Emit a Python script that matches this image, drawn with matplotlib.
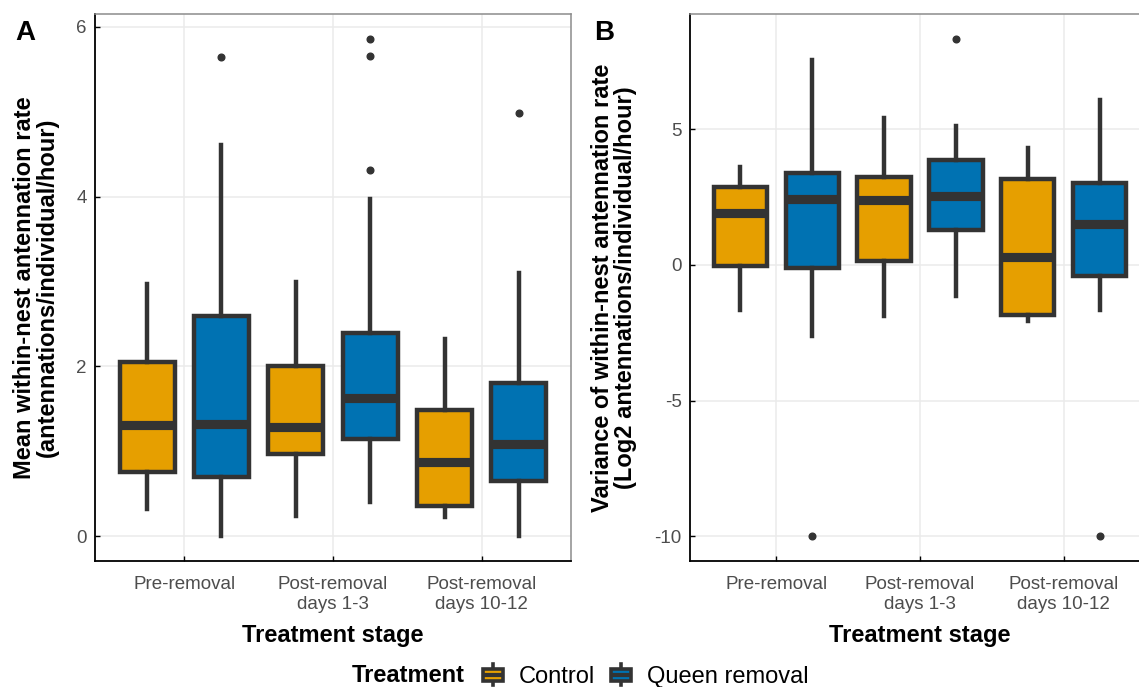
import numpy as np
import matplotlib
matplotlib.use("Agg")
import matplotlib.pyplot as plt
from matplotlib.legend_handler import HandlerBase
from matplotlib.patches import Rectangle, Patch
from matplotlib.lines import Line2D

plt.rcParams["font.family"] = ["Liberation Sans", "DejaVu Sans"]
plt.rcParams["axes.unicode_minus"] = False

stages = ["Pre-removal", "Post-removal\ndays 1-3", "Post-removal\ndays 10-12"]
treatments = ["Control", "Queen removal"]
colours = ["#E69F00", "#0072B2"]
dark = "#333333"

# panel A: mean within-nest antennation rate (box stats per stage)
a_ctrl_low = [0.32, 0.24, 0.23]
a_ctrl_q1 = [0.76, 0.97, 0.35]
a_ctrl_med = [1.31, 1.29, 0.87]
a_ctrl_q3 = [2.05, 2.00, 1.49]
a_ctrl_high = [2.97, 3.00, 2.32]
a_ctrl_out = [[], [], []]

a_queen_low = [0.00, 0.40, 0.00]
a_queen_q1 = [0.70, 1.15, 0.645]
a_queen_med = [1.32, 1.63, 1.09]
a_queen_q3 = [2.59, 2.39, 1.81]
a_queen_high = [4.61, 3.97, 3.10]
a_queen_out = [[5.65], [5.86, 5.66, 4.32], [4.99]]

# panel B: variance of within-nest antennation rate (log2)
b_ctrl_low = [-1.66, -1.87, -2.08]
b_ctrl_q1 = [-0.04, 0.13, -1.83]
b_ctrl_med = [1.93, 2.38, 0.31]
b_ctrl_q3 = [2.89, 3.23, 3.17]
b_ctrl_high = [3.63, 5.42, 4.32]
b_ctrl_out = [[], [], []]

b_queen_low = [-2.62, -1.14, -1.66]
b_queen_q1 = [-0.11, 1.30, -0.39]
b_queen_med = [2.42, 2.56, 1.51]
b_queen_q3 = [3.38, 3.86, 3.01]
b_queen_high = [7.56, 5.14, 6.08]
b_queen_out = [[-10.0], [8.34], [-10.0]]


def make_stats(low, q1, med, q3, high, out):
    return [dict(whislo=low[i], q1=q1[i], med=med[i], q3=q3[i], whishi=high[i],
                 fliers=out[i]) for i in range(len(med))]


def draw_panel(ax, groups, ylim, yticks, ylabel, label_x):
    x = np.arange(1, len(stages) + 1)
    for k, stats in enumerate(groups):
        ax.bxp(stats, positions=x + (k - 0.5) * 0.5, widths=0.37,
               patch_artist=True, showcaps=False, manage_ticks=False,
               boxprops=dict(facecolor=colours[k], edgecolor=dark, linewidth=3.2),
               medianprops=dict(color=dark, linewidth=6.6, solid_capstyle="butt"),
               whiskerprops=dict(color=dark, linewidth=3.2),
               flierprops=dict(marker="o", markerfacecolor=dark, markeredgecolor=dark,
                               markersize=4.8))
    ax.set_xlim(0.4, 3.6)
    ax.set_ylim(*ylim)
    ax.set_xticks(x)
    ax.set_xticklabels(stages, multialignment="center")
    ax.set_yticks(yticks)
    ax.set_yticklabels([str(t) for t in yticks])
    ax.grid(True, color="#EBEBEB", linewidth=1.1, zorder=0)
    ax.set_axisbelow(True)
    ax.tick_params(direction="in", length=3.5, width=1, color="black",
                   labelsize=13.5, labelcolor="#4D4D4D", pad=6)
    ax.tick_params(axis="x", pad=11)
    for s in ["left", "bottom"]:
        ax.spines[s].set_color("black")
        ax.spines[s].set_linewidth(1.3)
    for s in ["top", "right"]:
        ax.spines[s].set_color("#8C8C8C")
        ax.spines[s].set_linewidth(1.1)
    ax.set_xlabel("Treatment stage", fontsize=17, fontweight="bold", labelpad=8)
    ax.set_ylabel(ylabel, fontsize=17, fontweight="bold", linespacing=1.0)
    ax.yaxis.set_label_coords(label_x, 0.5)


class BoxKey(HandlerBase):
    def create_artists(self, legend, orig_handle, xdescent, ydescent, width, height,
                       fontsize, trans):
        x0, y0 = -xdescent, -ydescent
        lo = y0 + height * 0.22
        hi = y0 + height * 0.78
        cx = x0 + width / 2
        stub1 = Line2D([cx, cx], [y0, lo], color=dark, linewidth=2.6, transform=trans)
        stub2 = Line2D([cx, cx], [hi, y0 + height], color=dark, linewidth=2.6, transform=trans)
        box = Rectangle((x0 + 1.5, lo), width - 3, hi - lo,
                        facecolor=orig_handle.get_facecolor(), edgecolor=dark,
                        linewidth=2.6, transform=trans)
        mid = (lo + hi) / 2
        med = Line2D([x0 + 1.5, x0 + width - 1.5], [mid, mid], color=dark,
                     linewidth=3.0, solid_capstyle="butt", transform=trans)
        return [stub1, stub2, box, med]


fig = plt.figure(figsize=(11.39, 6.87), dpi=100)
ax_a = fig.add_axes([95 / 1139, 126 / 687, 476 / 1139, 547 / 687])
ax_b = fig.add_axes([690 / 1139, 126 / 687, 460 / 1139, 547 / 687])

draw_panel(ax_a,
           [make_stats(a_ctrl_low, a_ctrl_q1, a_ctrl_med, a_ctrl_q3, a_ctrl_high, a_ctrl_out),
            make_stats(a_queen_low, a_queen_q1, a_queen_med, a_queen_q3, a_queen_high, a_queen_out)],
           (-0.293, 6.153), [0, 2, 4, 6],
           "Mean within-nest antennation rate\n(antennations/individual/hour)", -0.076)
draw_panel(ax_b,
           [make_stats(b_ctrl_low, b_ctrl_q1, b_ctrl_med, b_ctrl_q3, b_ctrl_high, b_ctrl_out),
            make_stats(b_queen_low, b_queen_q1, b_queen_med, b_queen_q3, b_queen_high, b_queen_out)],
           (-10.917, 9.257), [-10, -5, 0, 5],
           "Variance of within-nest antennation rate\n(Log2 antennations/individual/hour)", -0.115)

fig.text(15 / 1139, 1 - 40 / 687, "A", fontsize=20, fontweight="bold", va="baseline")
fig.text(594 / 1139, 1 - 40 / 687, "B", fontsize=20, fontweight="bold", va="baseline")

fig.text(352 / 1139, 1 - 676 / 687, "Treatment", fontsize=17, fontweight="bold", va="center")
handles = [Patch(facecolor=c) for c in colours]
fig.legend(handles, treatments, loc="center left", bbox_to_anchor=(481 / 1139, 1 - 676 / 687),
           ncol=2, frameon=False, fontsize=17, handler_map={Patch: BoxKey()},
           handlelength=1.0, handleheight=1.0, handletextpad=0.6, columnspacing=0.6,
           borderpad=0, borderaxespad=0)

fig.savefig("out.png", dpi=100)
